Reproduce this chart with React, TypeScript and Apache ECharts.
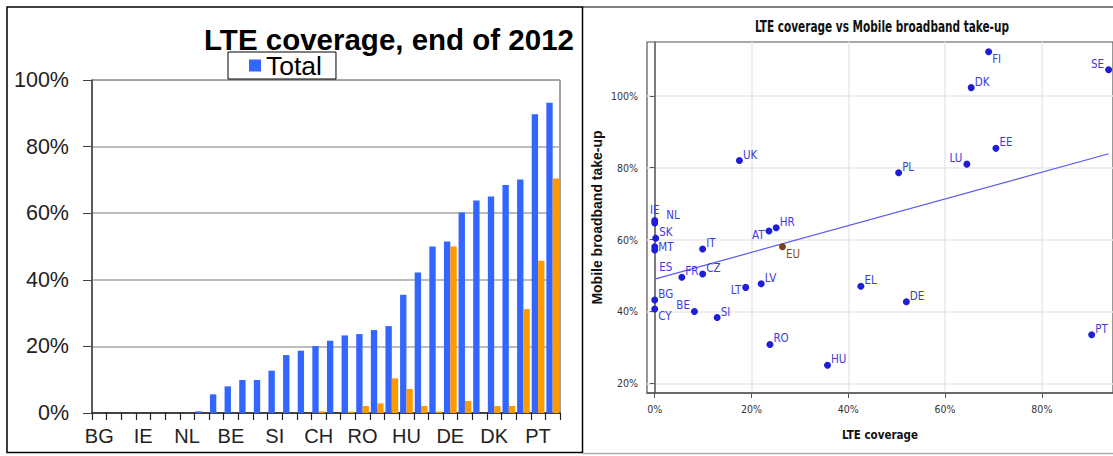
import React, { useEffect, useRef } from "react";
import * as echarts from "echarts";

// ---- Left chart: LTE coverage, end of 2012 ----
const barCategories = [
  "BG", "CY", "ES", "IE", "IS", "MT", "NL", "SK", "FR", "BE", "CZ", "IT", "SI", "UK", "LT", "CH",
  "LV", "AT", "RO", "HR", "EU", "HU", "EL", "PL", "DE", "NO", "LU", "DK", "FI", "EE", "PT", "SE",
];
const totalCoverage = [
  0, 0, 0, 0, 0, 0, 0, 0.005, 0.056, 0.08, 0.099, 0.099, 0.127, 0.174, 0.187, 0.201,
  0.217, 0.233, 0.237, 0.249, 0.261, 0.355, 0.422, 0.5, 0.515, 0.602, 0.638, 0.65, 0.685, 0.701, 0.897, 0.932,
];
const ruralCoverage = [
  0, 0, 0, 0, 0, 0, 0, 0, 0, 0, 0, 0, 0, 0, 0, 0.005,
  0, 0.004, 0.021, 0.029, 0.104, 0.072, 0.021, 0.004, 0.5, 0.036, 0, 0.021, 0.021, 0.312, 0.457, 0.704,
];

// ---- Right chart: LTE coverage vs Mobile broadband take-up ----
const scatterNames = [
  "FI", "SE", "DK", "EE", "LU", "PL", "UK", "IE", "NL", "SK", "MT", "ES", "IT", "CZ",
  "FR", "BG", "CY", "BE", "SI", "LT", "LV", "AT", "HR", "RO", "HU", "EL", "DE", "PT",
];
const lteCoverage = [
  0.69, 0.938, 0.654, 0.705, 0.645, 0.504, 0.175, 0, 0, 0.002, 0, 0, 0.099, 0.099,
  0.056, 0, 0, 0.082, 0.129, 0.188, 0.22, 0.236, 0.251, 0.238, 0.357, 0.426, 0.52, 0.903,
];
const broadbandTakeup = [
  1.123, 1.073, 1.023, 0.854, 0.81, 0.786, 0.82, 0.653, 0.646, 0.604, 0.58, 0.571, 0.574, 0.504,
  0.495, 0.432, 0.407, 0.4, 0.383, 0.467, 0.477, 0.624, 0.633, 0.308, 0.25, 0.47, 0.427, 0.335,
];
const euName = "EU";
const euCoverage = 0.264;
const euTakeup = 0.58;
const trendX = [0, 0.938];
const trendY = [0.49, 0.839];
const scatterTicks = [0, 0.2, 0.4, 0.6, 0.8];
const scatterYTicks = [0.2, 0.4, 0.6, 0.8, 1.0];

// label placement (style only)
const placement: Record<string, string> = {
  FI: "br", SE: "tl", LU: "tl", BE: "tl", CY: "br", MT: "r", ES: "es", IE: "t", NL: "nl",
  LT: "bl", AT: "al",
};

const ARIAL = "Arial, 'Liberation Sans', sans-serif";
const NARROW = "'Liberation Sans Narrow', 'Arial Narrow', 'DejaVu Sans Condensed', sans-serif";

function labelFor(name: string, color: string) {
  const p = placement[name] || "tr";
  const base: any = { show: true, color, fontSize: 11.5, fontFamily: NARROW, distance: 0, formatter: "{b}" };
  switch (p) {
    case "br": return { ...base, position: "right", offset: [0, 7] };
    case "tl": return { ...base, position: "left", offset: [-1, -6] };
    case "bl": return { ...base, position: "left", offset: [-1, 3] };
    case "al": return { ...base, position: "left", offset: [-1, 4] };
    case "r": return { ...base, position: "right", offset: [0, 0] };
    case "es": return { ...base, position: "right", offset: [1, 17] };
    case "t": return { ...base, position: "top", offset: [0, -1] };
    case "nl": return { ...base, position: "right", offset: [8, -8] };
    default: return { ...base, position: "right", offset: [0, -6] };
  }
}

const pct = (v: number) => Math.round(v * 100) + "%";

export default function App() {
  const ref = useRef<HTMLDivElement>(null);
  useEffect(() => {
    if (!ref.current) return;
    const chart = echarts.init(ref.current, undefined, { renderer: "svg" });
    const scatterData = scatterNames.map((n, i) => ({
      name: n,
      value: [lteCoverage[i], broadbandTakeup[i]],
      label: labelFor(n, "#3c3cdc"),
    }));
    const option: any = {
      animation: false,
      backgroundColor: "#fff",
      title: [
        {
          text: "LTE coverage, end of 2012",
          right: 539,
          top: 27,
          padding: 0,
          textStyle: { fontSize: 29.5, fontWeight: "bold", color: "#000", fontFamily: ARIAL, lineHeight: 24 },
        },
      ],
      legend: {
        data: ["Total"],
        left: 228,
        top: 52,
        padding: [0, 14, 0, 21],
        itemWidth: 12,
        itemHeight: 12,
        icon: "rect",
        borderColor: "#000",
        borderWidth: 1,
        backgroundColor: "rgba(255,255,255,0)",
        selectedMode: false,
        textStyle: { fontSize: 26.5, color: "#000", fontFamily: ARIAL, lineHeight: 23 },
      },
      graphic: [
        { type: "rect", shape: { x: 7, y: 7, width: 575.5, height: 445.5 }, style: { fill: "none", stroke: "#000", lineWidth: 1.5 }, silent: true },
        { type: "line", shape: { x1: 583, y1: 7, x2: 1113, y2: 7 }, style: { stroke: "#000", lineWidth: 1.2 }, silent: true },
        { type: "line", shape: { x1: 583, y1: 453.5, x2: 1113, y2: 453.5 }, style: { stroke: "#aaa", lineWidth: 1.5 }, silent: true },
        {
          type: "text",
          x: 882,
          y: 19,
          scaleX: 0.78,
          silent: true,
          style: {
            text: "LTE coverage vs Mobile broadband take-up",
            fill: "#111",
            font: "bold 15px 'DejaVu Sans Condensed', 'DejaVu Sans', sans-serif",
            textAlign: "center",
            textVerticalAlign: "top",
          },
        },
      ],
      grid: [
        { left: 92, top: 80, right: 553, bottom: 43, show: true, borderColor: "#444", borderWidth: 1, backgroundColor: "transparent" },
        { left: 647, top: 42, right: -1, bottom: 63, show: true, borderColor: "#555", borderWidth: 1.2, backgroundColor: "transparent" },
      ],
      xAxis: [
        {
          gridIndex: 0,
          type: "category",
          data: barCategories,
          axisLine: { lineStyle: { color: "#222", width: 1.5 } },
          axisTick: { show: true, interval: 0, length: 7, lineStyle: { color: "#222", width: 1.2 } },
          axisLabel: { interval: 2, fontSize: 20, margin: 13, color: "#222", fontFamily: ARIAL },
          splitLine: { show: false },
        },
        {
          gridIndex: 1,
          type: "value",
          min: -0.016,
          max: 0.947,
          name: "LTE coverage",
          nameLocation: "middle",
          nameGap: 36,
          nameTextStyle: { fontSize: 11.5, fontWeight: "bold", color: "#111", fontFamily: NARROW },
          axisLine: { lineStyle: { color: "#555", width: 1.5 } },
          axisTick: { show: true, length: 5, customValues: scatterTicks, lineStyle: { color: "#555" } },
          axisLabel: { customValues: scatterTicks, formatter: pct, fontSize: 10.5, margin: 10, color: "#333", fontFamily: NARROW },
          splitLine: { show: true, lineStyle: { color: "#e8e8e8", width: 1.5 } },
        },
      ],
      yAxis: [
        {
          gridIndex: 0,
          type: "value",
          min: 0,
          max: 1,
          interval: 0.2,
          axisLine: { show: true, lineStyle: { color: "#444", width: 1.5 } },
          axisTick: { show: true, length: 9, lineStyle: { color: "#444" } },
          axisLabel: { formatter: pct, fontSize: 21.5, margin: 23, color: "#222", fontFamily: ARIAL },
          splitLine: { show: true, lineStyle: { color: "#a6a6a6", width: 1.5 } },
        },
        {
          gridIndex: 1,
          type: "value",
          min: 0.173,
          max: 1.15,
          name: "Mobile broadband take-up",
          nameLocation: "middle",
          nameGap: 43,
          nameTextStyle: { fontSize: 14, fontWeight: "bold", color: "#111", fontFamily: ARIAL },
          axisLine: { show: true, lineStyle: { color: "#555", width: 1.5 } },
          axisTick: { show: true, length: 5, customValues: scatterYTicks, lineStyle: { color: "#555" } },
          axisLabel: { customValues: scatterYTicks, formatter: pct, fontSize: 10.5, margin: 9, color: "#333", fontFamily: NARROW },
          splitLine: { show: true, lineStyle: { color: "#e8e8e8", width: 1.5 } },
        },
      ],
      series: [
        {
          name: "Total",
          type: "bar",
          xAxisIndex: 0,
          yAxisIndex: 0,
          data: totalCoverage,
          itemStyle: { color: "#3366ff" },
          barGap: "0%",
          barCategoryGap: "13%",
        },
        {
          name: "Rural",
          type: "bar",
          xAxisIndex: 0,
          yAxisIndex: 0,
          data: ruralCoverage,
          itemStyle: { color: "#ff9900" },
          barGap: "0%",
          barCategoryGap: "13%",
        },
        {
          name: "Trend",
          type: "line",
          xAxisIndex: 1,
          yAxisIndex: 1,
          data: trendX.map((x, i) => [x, trendY[i]]),
          symbol: "none",
          lineStyle: { color: "#5a5af0", width: 1.2 },
          z: 1,
        },
        {
          name: "Countries",
          type: "scatter",
          xAxisIndex: 1,
          yAxisIndex: 1,
          symbol: "circle",
          symbolSize: 7,
          data: scatterData,
          itemStyle: { color: "#1e1ed8", opacity: 1 },
          label: { formatter: "{b}" },
          z: 3,
        },
        {
          name: euName,
          type: "scatter",
          xAxisIndex: 1,
          yAxisIndex: 1,
          symbol: "circle",
          symbolSize: 7,
          data: [{ name: euName, value: [euCoverage, euTakeup], label: { ...labelFor("EU", "#8b4a22"), position: "right", offset: [0, 7] } }],
          itemStyle: { color: "#7b3f1e", opacity: 1 },
          label: { formatter: "{b}" },
          z: 3,
        },
      ],
    };
    chart.setOption(option);
    return () => chart.dispose();
  }, []);
  return (
    <div
      ref={ref}
      style={{ position: "fixed", left: 0, top: 0, width: 1113, height: 456, background: "#fff" }}
    />
  );
}
